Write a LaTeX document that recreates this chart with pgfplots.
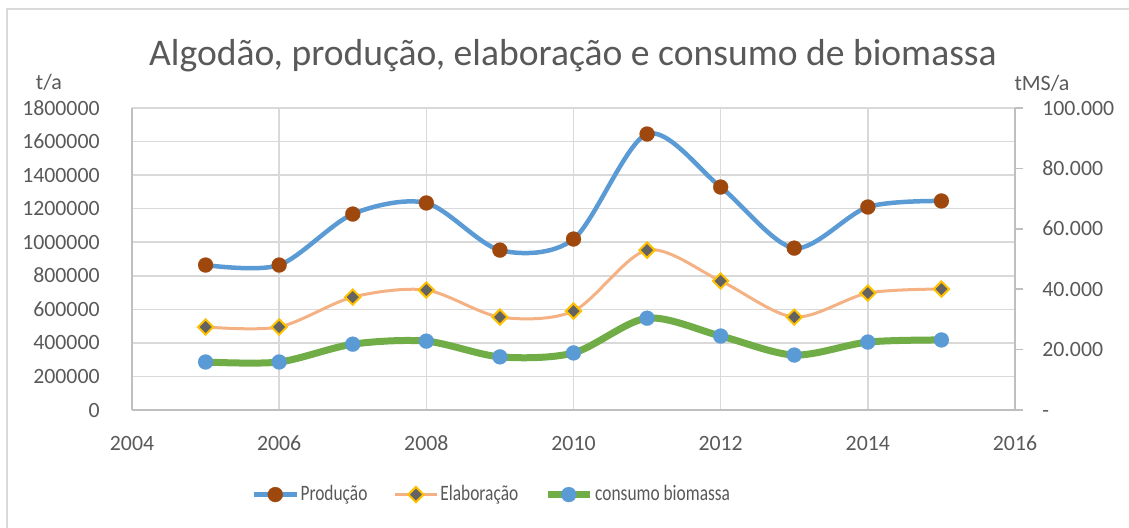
\documentclass[border=0pt]{standalone}
\usepackage{fontspec}
\setmainfont{Carlito}
\newfontfamily\legfont[FakeStretch=0.79]{Carlito}
\usepackage{pgfplots}
\pgfplotsset{compat=1.18}
\definecolor{txt}{HTML}{595959}
\definecolor{gridc}{HTML}{D9D9D9}
\definecolor{axc}{HTML}{BFBFBF}
\definecolor{prodline}{HTML}{5B9BD5}
\definecolor{prodmark}{HTML}{9E480E}
\definecolor{elabline}{HTML}{F4B183}
\definecolor{elabmark}{HTML}{636363}
\definecolor{elabedge}{HTML}{FFC000}
\definecolor{consline}{HTML}{70AD47}
\definecolor{consmark}{HTML}{5B9BD5}
\begin{document}
\begin{tikzpicture}
\useasboundingbox (0,0) rectangle (564.5pt,-263.5pt);
\draw[gridc, line width=0.75pt] (3.5pt,-300pt) -- (3.5pt,-4.5pt) -- (600pt,-4.5pt);
\begin{axis}[
  at={(66pt,-205pt)}, anchor=south west,
  scale only axis, width=441.5pt, height=151pt,
  xmin=2004, xmax=2016, ymin=0, ymax=1800000,
  scaled x ticks=false, scaled y ticks=false,
  xtick={2004,2006,2008,2010,2012,2014,2016},
  xticklabels={2004,2006,2008,2010,2012,2014,2016},
  ytick={0,200000,400000,600000,800000,1000000,1200000,1400000,1600000,1800000},
  yticklabels={0,200000,400000,600000,800000,1000000,1200000,1400000,1600000,1800000},
  axis x line*=bottom, axis y line*=left,
  axis line style={axc, line width=1pt},
  major tick length=0pt,
  xmajorgrids, ymajorgrids, grid style={gridc, line width=0.75pt},
  tick label style={font=\fontsize{10.9}{13}\selectfont, text=txt, inner sep=0pt},
  yticklabel style={anchor=base east, xshift=-16pt, yshift=-3.5pt},
  xticklabel style={anchor=base, yshift=-20pt},
  legend columns=3,
  legend style={at={(0.1355,-0.28)}, anchor=west, draw=none, fill=none, inner sep=0pt,
    nodes={inner sep=0pt, font=\legfont\fontsize{11}{13}\selectfont, text=txt},
    /tikz/every odd column/.append style={column sep=1pt},
    /tikz/every even column/.append style={column sep=13pt}},
  legend image code/.code={\draw[mark repeat=2,mark phase=2,#1] plot coordinates {(0pt,0pt) (10.5pt,0pt) (21pt,0pt)};},
]
\addplot[prodline, line width=2.25pt, smooth, tension=0.5, mark=*, mark size=3.75pt,
  mark options={draw=prodmark, fill=prodmark, line width=0.1pt}] coordinates {
  (2005,864000) (2006,864000) (2007,1168000) (2008,1234000) (2009,953000) (2010,1019000)
  (2011,1645000) (2012,1329000) (2013,965000) (2014,1210000) (2015,1246000)};
\addlegendentry{Produção}
\addplot[elabline, line width=1.5pt, smooth, tension=0.5, mark=square*, mark size=2.7pt,
  mark options={rotate=45, draw=elabedge, fill=elabmark, line width=1pt}] coordinates {
  (2005,495000) (2006,495000) (2007,673000) (2008,715000) (2009,554000) (2010,590000)
  (2011,953000) (2012,769000) (2013,554000) (2014,697000) (2015,721000)};
\addlegendentry{Elaboração}
\addlegendimage{consline, line width=3.5pt, mark=*, mark size=3.75pt,
  mark options={draw=consmark, fill=consmark, line width=0.1pt}}
\addlegendentry{consumo biomassa}
\end{axis}
\begin{axis}[
  at={(66pt,-205pt)}, anchor=south west,
  scale only axis, width=441.5pt, height=151pt,
  xmin=2004, xmax=2016, ymin=0, ymax=100000,
  scaled y ticks=false,
  axis x line=none, axis y line*=right,
  axis line style={axc, line width=1pt},
  ytick={0,20000,40000,60000,80000,100000},
  yticklabels={-,20.000,40.000,60.000,80.000,100.000},
  major tick length=4pt, tick align=outside, tick style={axc, line width=0.75pt},
  tick label style={font=\fontsize{10.9}{13}\selectfont, text=txt, inner sep=0pt},
  yticklabel style={anchor=base west, xshift=9.5pt, yshift=-3.5pt},
]
\addplot[consline, line width=3.5pt, smooth, tension=0.5, mark=*, mark size=3.75pt,
  mark options={draw=consmark, fill=consmark, line width=0.1pt}] coordinates {
  (2005,15900) (2006,15900) (2007,21800) (2008,22800) (2009,17600) (2010,18900)
  (2011,30400) (2012,24500) (2013,18200) (2014,22500) (2015,23200)};
\end{axis}
\node[anchor=base, font=\fontsize{18.8}{21}\selectfont, text=txt] at (286.5pt,-32.5pt) {Algodão, produção, elaboração e consumo de biomassa};
\node[anchor=base, font=\fontsize{11}{13}\selectfont, text=txt] at (24.5pt,-44.5pt) {t/a};
\node[anchor=base, font=\fontsize{11}{13}\selectfont, text=txt] at (521pt,-45pt) {tMS/a};
\end{tikzpicture}
\end{document}
